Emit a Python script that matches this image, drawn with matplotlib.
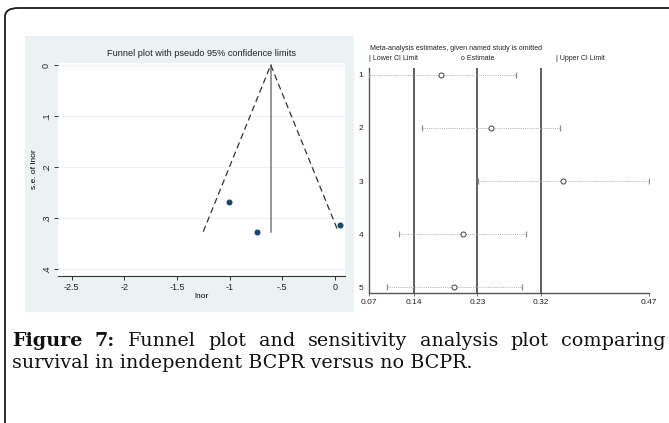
import matplotlib
matplotlib.use("Agg")
import matplotlib.pyplot as plt
from matplotlib.patches import Rectangle, FancyBboxPatch

W, H = 669, 423

# funnel plot (left)
lnor = [-1.01, -0.74, 0.05]
se_lnor = [0.269, 0.327, 0.314]
pooled_lnor = -0.61
funnel_xticks = [-2.5, -2, -1.5, -1, -0.5, 0]
funnel_xticklabels = ["-2.5", "-2", "-1.5", "-1", "-.5", "0"]
funnel_yticks = [0, 0.1, 0.2, 0.3, 0.4]
funnel_yticklabels = ["0", ".1", ".2", ".3", ".4"]

# sensitivity analysis (right)
studies = ["1", "2", "3", "4", "5"]
ci_lower = [0.072, 0.148, 0.227, 0.114, 0.098]
estimate = [0.175, 0.245, 0.348, 0.205, 0.193]
ci_upper = [0.281, 0.343, 0.470, 0.295, 0.289]
overall = [0.136, 0.226, 0.316]  # lower CI, estimate, upper CI of full analysis

caption_line1 = [("Figure", True), ("7:", True), ("Funnel", False), ("plot", False),
                 ("and", False), ("sensitivity", False), ("analysis", False),
                 ("plot", False), ("comparing", False)]
caption_line2 = "survival in independent BCPR versus no BCPR."

STATA_BG = "#eaf2f3"
NAVY = "#1a476f"
CHART_FONT = ["Liberation Sans", "DejaVu Sans"]
CAPTION_FONT = ["DejaVu Serif"]


def px_rect(x0, y0, x1, y1):
    """figure-fraction rect from pixel box (top-left origin)"""
    return [x0 / W, 1 - y1 / H, (x1 - x0) / W, (y1 - y0) / H]


plt.rcParams["font.family"] = CHART_FONT
fig = plt.figure(figsize=(W / 100, H / 100), dpi=100)
fig.patch.set_facecolor("white")

# outer frame of the figure box (runs off the right / bottom edge)
frame = FancyBboxPatch((5 / W, -0.2), 1.2, 1 - 8 / H + 0.2,
                       boxstyle="round,pad=0,rounding_size=0.02",
                       transform=fig.transFigure, fill=False,
                       edgecolor="#1a1a1a", linewidth=1.3, zorder=5)
fig.patches.append(frame)

# stata graph region behind the funnel plot
fig.patches.append(Rectangle((25 / W, 1 - 312 / H), 329 / W, 276 / H,
                             transform=fig.transFigure, facecolor=STATA_BG,
                             edgecolor="none", zorder=-1))

# ---- funnel plot ----
ax1 = fig.add_axes(px_rect(58, 63, 345, 276))
ax1.set_facecolor("white")
se_max = max(se_lnor)
ax1.plot([pooled_lnor, pooled_lnor], [0, se_max], color="#7a7a7a", linewidth=1.1)
ax1.plot([pooled_lnor - 1.96 * se_max, pooled_lnor, pooled_lnor + 1.96 * se_max],
         [se_max, 0, se_max], color="#333333", linewidth=0.9, linestyle=(0, (5, 3)))
ax1.scatter(lnor, se_lnor, s=11, color=NAVY, zorder=3)

ax1.set_xlim(-2.63, 0.095)
ax1.set_ylim(0.414, -0.004)
ax1.set_xticks(funnel_xticks)
ax1.set_xticklabels(funnel_xticklabels)
ax1.set_yticks(funnel_yticks)
ax1.set_yticklabels(funnel_yticklabels, rotation=90, va="center")
ax1.grid(axis="y", color=STATA_BG, linewidth=0.8)
ax1.set_axisbelow(True)
for side in ["top", "right", "left"]:
    ax1.spines[side].set_visible(False)
ax1.spines["bottom"].set_color("#333333")
ax1.spines["bottom"].set_linewidth(0.8)
ax1.tick_params(axis="both", length=3, width=0.7, color="#333333",
                labelsize=6.5, labelcolor="#222222", pad=2)
ax1.set_xlabel("lnor", fontsize=6, labelpad=1)
ax1.set_ylabel("s.e. of lnor", fontsize=6, labelpad=3)
ax1.set_title("Funnel plot with pseudo 95% confidence limits", fontsize=6.6,
              color="#222222", pad=5)

# ---- sensitivity plot ----
ax2 = fig.add_axes(px_rect(369, 68, 649, 293))
rows = list(range(1, len(studies) + 1))
for val in overall:
    ax2.axvline(val, color="#5e5e5e", linewidth=1.4, zorder=1)
for r, lo, est, hi in zip(rows, ci_lower, estimate, ci_upper):
    ax2.plot([lo, hi], [r, r], color="#b0b0b0", linewidth=0.7,
             linestyle=(0, (1, 1.2)), zorder=2)
ax2.plot(ci_lower, rows, linestyle="none", marker="|", markersize=5,
         color="#8a8a8a", markeredgewidth=0.9, zorder=3)
ax2.plot(ci_upper, rows, linestyle="none", marker="|", markersize=5,
         color="#8a8a8a", markeredgewidth=0.9, zorder=3)
ax2.plot(estimate, rows, linestyle="none", marker="o", markersize=3.6,
         markerfacecolor="white", markeredgecolor="#555555",
         markeredgewidth=0.8, zorder=4)

lo_all, hi_all = min(ci_lower), max(ci_upper)
ax2.set_xlim(lo_all, hi_all)
ax2.set_ylim(5.113, 0.868)
sens_ticks = [lo_all] + overall + [hi_all]
ax2.set_xticks(sens_ticks)
ax2.set_xticklabels([f"{v:.2f}" for v in sens_ticks])
ax2.set_yticks(rows)
ax2.set_yticklabels(studies)
for side in ["top", "right"]:
    ax2.spines[side].set_visible(False)
for side in ["left", "bottom"]:
    ax2.spines[side].set_color("#555555")
    ax2.spines[side].set_linewidth(1.0)
ax2.tick_params(axis="x", length=2, width=0.6, color="#555555",
                labelsize=6, labelcolor="#222222", pad=2)
ax2.tick_params(axis="y", length=0, labelsize=6, labelcolor="#222222", pad=4)

legend_size = 5
fig.text(370 / W, 1 - 50 / H, "Meta-analysis estimates, given named study is omitted",
         fontsize=legend_size, color="#222222", va="baseline")
fig.text(369 / W, 1 - 60 / H, "| Lower CI Limit", fontsize=legend_size, color="#222222", va="baseline")
fig.text(461 / W, 1 - 60 / H, "o Estimate", fontsize=legend_size, color="#222222", va="baseline")
fig.text(556 / W, 1 - 60 / H, "| Upper CI Limit", fontsize=legend_size, color="#222222", va="baseline")

# ---- caption, first line justified ----
cap_size = 13.8
fig.canvas.draw()
renderer = fig.canvas.get_renderer()
words = []
for word, bold in caption_line1:
    t = fig.text(0, 1 - 346 / H, word, fontsize=cap_size, family=CAPTION_FONT,
                 fontweight="bold" if bold else "normal", va="baseline", color="#111111")
    words.append(t)
widths = [t.get_window_extent(renderer).width for t in words]
x_start, x_end = 12, 666
gap = (x_end - x_start - sum(widths)) / (len(words) - 1)
x = x_start
for t, w in zip(words, widths):
    t.set_x(x / W)
    x += w + gap
fig.text(12 / W, 1 - 368 / H, caption_line2, fontsize=cap_size, family=CAPTION_FONT,
         va="baseline", color="#111111")

fig.savefig("out.png", dpi=100, facecolor="white")
